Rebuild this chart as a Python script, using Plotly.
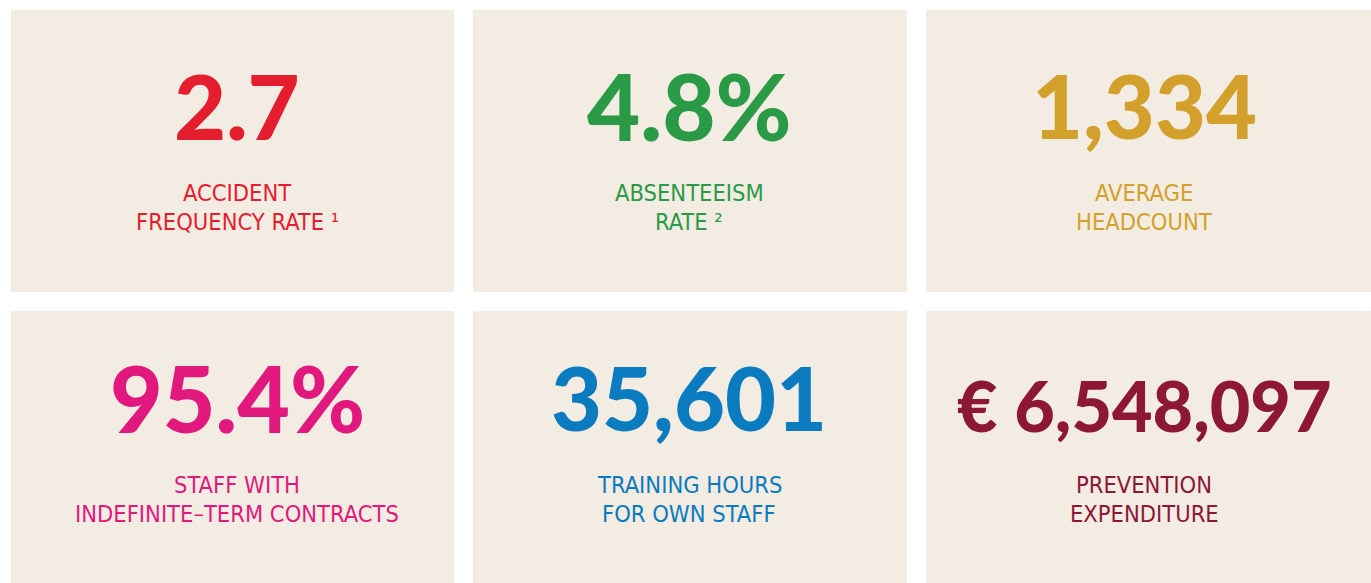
import plotly.graph_objects as go

# ---- data ----
values = ["2.7", "4.8%", "1,334", "95.4%", "35,601", "€ 6,548,097"]
labels_line1 = ["ACCIDENT", "ABSENTEEISM", "AVERAGE", "STAFF WITH", "TRAINING HOURS", "PREVENTION"]
labels_line2 = ["FREQUENCY RATE ¹", "RATE ²", "HEADCOUNT",
                "INDEFINITE–TERM CONTRACTS", "FOR OWN STAFF", "EXPENDITURE"]
colors = ["#E41E2F", "#2A9A47", "#D3A02B", "#E1197F", "#0B7BBF", "#8C1737"]

# ---- layout (pixel coordinates) ----
W, H = 1371, 583
tile_x = [(11, 454), (473, 907), (926, 1371)]
tile_y = [(10, 292), (311, 583)]
center_x = [237, 689, 1144]
num_y = [105, 397]
lab_y = [(192.5, 221.5), (484.5, 513.5)]
num_size = [90, 92, 88, 91, 88, 70]
num_y_adj = [0, 0, 0, 0, 0, 8]
bg = "#F3ECE2"
label_font = "Liberation Sans Narrow, DejaVu Sans Condensed, Roboto Condensed, Arial Narrow, Roboto, sans-serif"

fig = go.Figure()
shapes = []
annotations = []
for i in range(6):
    r, c = divmod(i, 3)
    shapes.append(dict(type="rect", xref="x", yref="y",
                       x0=tile_x[c][0], x1=tile_x[c][1], y0=tile_y[r][0], y1=tile_y[r][1],
                       fillcolor=bg, line=dict(width=0), layer="below"))
    annotations.append(dict(x=center_x[c], y=num_y[r] + num_y_adj[i], xref="x", yref="y",
                            text=values[i], showarrow=False, xanchor="center", yanchor="middle",
                            font=dict(family="Lato", size=num_size[i], color=colors[i], weight=900)))
    for txt, yy in zip((labels_line1[i], labels_line2[i]), lab_y[r]):
        annotations.append(dict(x=center_x[c], y=yy, xref="x", yref="y",
                                text='<span style="font-stretch:condensed">' + txt + '</span>',
                                showarrow=False, xanchor="center", yanchor="middle",
                                font=dict(family=label_font, size=23.5, color=colors[i])))

fig.update_layout(
    width=W, height=H,
    margin=dict(l=0, r=0, t=0, b=0),
    paper_bgcolor="white", plot_bgcolor="white",
    xaxis=dict(range=[0, W], visible=False, fixedrange=True),
    yaxis=dict(range=[H, 0], visible=False, fixedrange=True),
    shapes=shapes, annotations=annotations, showlegend=False,
)
fig.write_html("out.html", config={"displayModeBar": False},
               post_script="document.body.style.margin='0';document.body.style.overflow='hidden';")
